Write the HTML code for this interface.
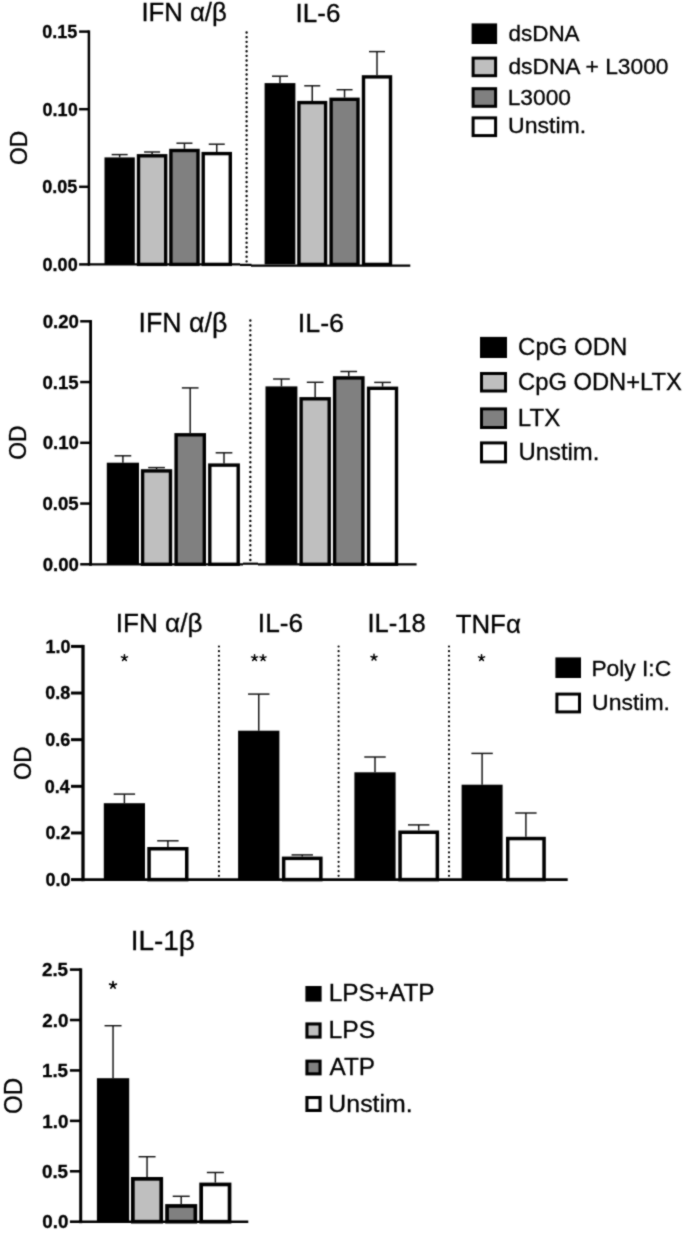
<!DOCTYPE html>
<html><head><meta charset="utf-8"><style>
html,body{margin:0;padding:0;background:#fff;}
svg{display:block;}
text{font-family:"Liberation Sans",sans-serif;fill:#000;stroke:#000;stroke-width:0.3px;}
</style></head><body>
<svg width="685" height="1234" viewBox="0 0 685 1234">
<defs><filter id="b" filterUnits="userSpaceOnUse" x="-10" y="-10" width="705" height="1254" color-interpolation-filters="sRGB"><feConvolveMatrix order="3" kernelMatrix="1 2 1 2 12 2 1 2 1" edgeMode="none" preserveAlpha="true"/></filter></defs>
<rect width="685" height="1234" fill="#fff"/>
<g filter="url(#b)">
<rect x="-10" y="-10" width="705" height="1254" fill="#fff"/>
<line x1="88.90" y1="30.35" x2="88.90" y2="265.65" stroke="#000" stroke-width="2.5" />
<line x1="79.10" y1="31.60" x2="88.90" y2="31.60" stroke="#000" stroke-width="2.5" />
<text transform="translate(42.34,37.99) scale(1.0000,1)" font-size="18" font-weight="bold">0.15</text>
<line x1="79.10" y1="109.20" x2="88.90" y2="109.20" stroke="#000" stroke-width="2.5" />
<text transform="translate(42.61,115.59) scale(1.0000,1)" font-size="18" font-weight="bold">0.10</text>
<line x1="79.10" y1="186.80" x2="88.90" y2="186.80" stroke="#000" stroke-width="2.5" />
<text transform="translate(42.34,193.19) scale(1.0000,1)" font-size="18" font-weight="bold">0.05</text>
<line x1="79.10" y1="264.40" x2="88.90" y2="264.40" stroke="#000" stroke-width="2.5" />
<text transform="translate(42.61,270.79) scale(1.0000,1)" font-size="18" font-weight="bold">0.00</text>
<line x1="88.00" y1="264.30" x2="240.00" y2="264.30" stroke="#000" stroke-width="2.3" />
<line x1="240.00" y1="264.90" x2="251.50" y2="264.90" stroke="#000" stroke-width="2.3" />
<line x1="251.00" y1="265.60" x2="410.30" y2="265.60" stroke="#000" stroke-width="2.3" />
<text transform="translate(27.16,164.93) rotate(-90) scale(0.9594,1)" font-size="23.80">OD</text>
<line x1="119.65" y1="157.40" x2="119.65" y2="154.60" stroke="#111" stroke-width="1.45" />
<line x1="111.65" y1="154.60" x2="127.65" y2="154.60" stroke="#111" stroke-width="1.45" />
<line x1="152.10" y1="154.10" x2="152.10" y2="152.00" stroke="#111" stroke-width="1.45" />
<line x1="144.10" y1="152.00" x2="160.10" y2="152.00" stroke="#111" stroke-width="1.45" />
<line x1="184.45" y1="148.80" x2="184.45" y2="143.20" stroke="#111" stroke-width="1.45" />
<line x1="176.45" y1="143.20" x2="192.45" y2="143.20" stroke="#111" stroke-width="1.45" />
<line x1="216.75" y1="151.90" x2="216.75" y2="144.20" stroke="#111" stroke-width="1.45" />
<line x1="208.75" y1="144.20" x2="224.75" y2="144.20" stroke="#111" stroke-width="1.45" />
<line x1="280.00" y1="83.10" x2="280.00" y2="76.20" stroke="#111" stroke-width="1.45" />
<line x1="272.00" y1="76.20" x2="288.00" y2="76.20" stroke="#111" stroke-width="1.45" />
<line x1="312.25" y1="100.90" x2="312.25" y2="85.80" stroke="#111" stroke-width="1.45" />
<line x1="304.25" y1="85.80" x2="320.25" y2="85.80" stroke="#111" stroke-width="1.45" />
<line x1="344.55" y1="97.60" x2="344.55" y2="89.70" stroke="#111" stroke-width="1.45" />
<line x1="336.55" y1="89.70" x2="352.55" y2="89.70" stroke="#111" stroke-width="1.45" />
<line x1="377.00" y1="75.20" x2="377.00" y2="51.60" stroke="#111" stroke-width="1.45" />
<line x1="369.00" y1="51.60" x2="385.00" y2="51.60" stroke="#111" stroke-width="1.45" />
<rect x="104.50" y="157.40" width="30.30" height="107.00" fill="#000"/>
<rect x="138.50" y="155.80" width="27.20" height="108.60" fill="#bfbfbf" stroke="#000" stroke-width="3.4"/>
<rect x="170.90" y="150.50" width="27.10" height="113.90" fill="#808080" stroke="#000" stroke-width="3.4"/>
<rect x="203.20" y="153.60" width="27.10" height="110.80" fill="#fff" stroke="#000" stroke-width="3.4"/>
<rect x="264.60" y="83.10" width="30.80" height="181.30" fill="#000"/>
<rect x="298.90" y="102.60" width="26.70" height="161.80" fill="#bfbfbf" stroke="#000" stroke-width="3.4"/>
<rect x="331.10" y="99.30" width="26.90" height="165.10" fill="#808080" stroke="#000" stroke-width="3.4"/>
<rect x="363.50" y="76.90" width="27.00" height="187.50" fill="#fff" stroke="#000" stroke-width="3.4"/>
<line x1="246.6" y1="32.50" x2="246.6" y2="261.34" stroke="#000" stroke-width="2.4" stroke-linecap="round" stroke-dasharray="0 4.67"/>
<text transform="translate(141.38,20.80) scale(1.0053,1)" font-size="25.6">IFN α/β</text>
<text transform="translate(295.56,21.80) scale(0.9998,1)" font-size="26">IL-6</text>
<rect x="471.60" y="23.40" width="25.50" height="20.60" fill="#000"/>
<text transform="translate(508.40,41.10) scale(0.9998,1)" font-size="22.5">dsDNA</text>
<rect x="473.10" y="58.10" width="22.50" height="17.60" fill="#bfbfbf" stroke="#000" stroke-width="3.0"/>
<text transform="translate(508.39,74.30) scale(1.0129,1)" font-size="22.5">dsDNA + L3000</text>
<rect x="473.10" y="88.70" width="22.50" height="17.60" fill="#808080" stroke="#000" stroke-width="3.0"/>
<text transform="translate(507.68,104.90) scale(1.0125,1)" font-size="22.5">L3000</text>
<rect x="473.10" y="117.90" width="22.50" height="17.70" fill="#fff" stroke="#000" stroke-width="3.0"/>
<text transform="translate(508.07,133.40) scale(1.0255,1)" font-size="22.5">Unstim.</text>
<line x1="90.60" y1="320.05" x2="90.60" y2="565.70" stroke="#000" stroke-width="2.8" />
<line x1="80.20" y1="321.30" x2="90.60" y2="321.30" stroke="#000" stroke-width="2.5" />
<text transform="translate(42.67,327.90) scale(1.0000,1)" font-size="18.6" font-weight="bold">0.20</text>
<line x1="80.20" y1="382.05" x2="90.60" y2="382.05" stroke="#000" stroke-width="2.5" />
<text transform="translate(42.39,388.65) scale(1.0000,1)" font-size="18.6" font-weight="bold">0.15</text>
<line x1="80.20" y1="442.80" x2="90.60" y2="442.80" stroke="#000" stroke-width="2.5" />
<text transform="translate(42.67,449.40) scale(1.0000,1)" font-size="18.6" font-weight="bold">0.10</text>
<line x1="80.20" y1="503.55" x2="90.60" y2="503.55" stroke="#000" stroke-width="2.5" />
<text transform="translate(42.39,510.15) scale(1.0000,1)" font-size="18.6" font-weight="bold">0.05</text>
<line x1="80.20" y1="564.30" x2="90.60" y2="564.30" stroke="#000" stroke-width="2.5" />
<text transform="translate(42.67,570.90) scale(1.0000,1)" font-size="18.6" font-weight="bold">0.00</text>
<line x1="89.50" y1="564.30" x2="243.00" y2="564.30" stroke="#000" stroke-width="2.2" />
<line x1="243.00" y1="563.70" x2="258.00" y2="563.70" stroke="#000" stroke-width="2.2" />
<line x1="258.00" y1="564.30" x2="416.60" y2="564.30" stroke="#000" stroke-width="2.2" />
<text transform="translate(25.86,459.83) rotate(-90) scale(0.9482,1)" font-size="24.08">OD</text>
<line x1="122.90" y1="462.70" x2="122.90" y2="455.80" stroke="#111" stroke-width="1.45" />
<line x1="114.55" y1="455.80" x2="131.25" y2="455.80" stroke="#111" stroke-width="1.45" />
<line x1="156.55" y1="469.20" x2="156.55" y2="467.60" stroke="#111" stroke-width="1.45" />
<line x1="148.20" y1="467.60" x2="164.90" y2="467.60" stroke="#111" stroke-width="1.45" />
<line x1="190.20" y1="433.10" x2="190.20" y2="387.90" stroke="#111" stroke-width="1.45" />
<line x1="181.85" y1="387.90" x2="198.55" y2="387.90" stroke="#111" stroke-width="1.45" />
<line x1="224.00" y1="463.40" x2="224.00" y2="452.80" stroke="#111" stroke-width="1.45" />
<line x1="215.65" y1="452.80" x2="232.35" y2="452.80" stroke="#111" stroke-width="1.45" />
<line x1="281.45" y1="386.40" x2="281.45" y2="379.00" stroke="#111" stroke-width="1.45" />
<line x1="273.10" y1="379.00" x2="289.80" y2="379.00" stroke="#111" stroke-width="1.45" />
<line x1="315.15" y1="397.10" x2="315.15" y2="382.30" stroke="#111" stroke-width="1.45" />
<line x1="306.80" y1="382.30" x2="323.50" y2="382.30" stroke="#111" stroke-width="1.45" />
<line x1="348.75" y1="376.20" x2="348.75" y2="371.50" stroke="#111" stroke-width="1.45" />
<line x1="340.40" y1="371.50" x2="357.10" y2="371.50" stroke="#111" stroke-width="1.45" />
<line x1="382.55" y1="386.60" x2="382.55" y2="382.40" stroke="#111" stroke-width="1.45" />
<line x1="374.20" y1="382.40" x2="390.90" y2="382.40" stroke="#111" stroke-width="1.45" />
<rect x="106.80" y="462.70" width="32.20" height="101.60" fill="#000"/>
<rect x="142.60" y="470.90" width="27.90" height="93.40" fill="#bfbfbf" stroke="#000" stroke-width="3.4"/>
<rect x="176.10" y="434.80" width="28.20" height="129.50" fill="#808080" stroke="#000" stroke-width="3.4"/>
<rect x="209.80" y="465.10" width="28.40" height="99.20" fill="#fff" stroke="#000" stroke-width="3.4"/>
<rect x="265.50" y="386.40" width="31.90" height="177.90" fill="#000"/>
<rect x="301.10" y="398.80" width="28.10" height="165.50" fill="#bfbfbf" stroke="#000" stroke-width="3.4"/>
<rect x="334.60" y="377.90" width="28.30" height="186.40" fill="#808080" stroke="#000" stroke-width="3.4"/>
<rect x="368.60" y="388.30" width="27.90" height="176.00" fill="#fff" stroke="#000" stroke-width="3.4"/>
<line x1="250.35" y1="320.56" x2="250.35" y2="559.98" stroke="#000" stroke-width="2.4" stroke-linecap="round" stroke-dasharray="0 4.886"/>
<text transform="translate(138.49,332.00) scale(0.9989,1)" font-size="26.8">IFN α/β</text>
<text transform="translate(297.78,332.00) scale(1.0104,1)" font-size="26.6">IL-6</text>
<rect x="480.00" y="336.90" width="27.00" height="21.10" fill="#000"/>
<text transform="translate(518.10,355.00) scale(1.0075,1)" font-size="23.8">CpG ODN</text>
<rect x="481.50" y="373.50" width="24.00" height="17.50" fill="#bfbfbf" stroke="#000" stroke-width="3.0"/>
<text transform="translate(518.11,389.60) scale(0.9972,1)" font-size="23.8">CpG ODN+LTX</text>
<rect x="481.50" y="408.90" width="24.00" height="18.60" fill="#808080" stroke="#000" stroke-width="3.0"/>
<text transform="translate(517.87,426.20) scale(1.0125,1)" font-size="23.8">LTX</text>
<rect x="481.50" y="442.90" width="24.00" height="19.00" fill="#fff" stroke="#000" stroke-width="3.0"/>
<text transform="translate(518.41,460.40) scale(1.0047,1)" font-size="23.8">Unstim.</text>
<line x1="83.00" y1="644.90" x2="83.00" y2="881.25" stroke="#000" stroke-width="3.3" />
<line x1="71.00" y1="646.40" x2="83.00" y2="646.40" stroke="#000" stroke-width="3.0" />
<text transform="translate(45.40,652.79) scale(1.0000,1)" font-size="18" font-weight="bold">1.0</text>
<line x1="71.00" y1="693.04" x2="83.00" y2="693.04" stroke="#000" stroke-width="3.0" />
<text transform="translate(45.22,699.43) scale(1.0000,1)" font-size="18" font-weight="bold">0.8</text>
<line x1="71.00" y1="739.68" x2="83.00" y2="739.68" stroke="#000" stroke-width="3.0" />
<text transform="translate(45.31,746.07) scale(1.0000,1)" font-size="18" font-weight="bold">0.6</text>
<line x1="71.00" y1="786.32" x2="83.00" y2="786.32" stroke="#000" stroke-width="3.0" />
<text transform="translate(44.77,792.71) scale(1.0000,1)" font-size="18" font-weight="bold">0.4</text>
<line x1="71.00" y1="832.96" x2="83.00" y2="832.96" stroke="#000" stroke-width="3.0" />
<text transform="translate(45.40,839.35) scale(1.0000,1)" font-size="18" font-weight="bold">0.2</text>
<line x1="71.00" y1="879.60" x2="83.00" y2="879.60" stroke="#000" stroke-width="3.0" />
<text transform="translate(45.40,885.99) scale(1.0000,1)" font-size="18" font-weight="bold">0.0</text>
<line x1="81.50" y1="879.60" x2="567.70" y2="879.60" stroke="#000" stroke-width="2.8" />
<text transform="translate(31.36,780.11) rotate(-90) scale(0.9501,1)" font-size="23.66">OD</text>
<line x1="124.40" y1="803.20" x2="124.40" y2="794.10" stroke="#111" stroke-width="1.45" />
<line x1="113.70" y1="794.10" x2="135.10" y2="794.10" stroke="#111" stroke-width="1.45" />
<line x1="167.90" y1="847.00" x2="167.90" y2="840.80" stroke="#111" stroke-width="1.45" />
<line x1="157.20" y1="840.80" x2="178.60" y2="840.80" stroke="#111" stroke-width="1.45" />
<line x1="258.75" y1="730.70" x2="258.75" y2="694.10" stroke="#111" stroke-width="1.45" />
<line x1="248.05" y1="694.10" x2="269.45" y2="694.10" stroke="#111" stroke-width="1.45" />
<line x1="302.25" y1="856.60" x2="302.25" y2="854.90" stroke="#111" stroke-width="1.45" />
<line x1="291.55" y1="854.90" x2="312.95" y2="854.90" stroke="#111" stroke-width="1.45" />
<line x1="375.00" y1="772.30" x2="375.00" y2="757.00" stroke="#111" stroke-width="1.45" />
<line x1="364.30" y1="757.00" x2="385.70" y2="757.00" stroke="#111" stroke-width="1.45" />
<line x1="418.70" y1="830.50" x2="418.70" y2="824.90" stroke="#111" stroke-width="1.45" />
<line x1="408.00" y1="824.90" x2="429.40" y2="824.90" stroke="#111" stroke-width="1.45" />
<line x1="482.10" y1="784.70" x2="482.10" y2="753.40" stroke="#111" stroke-width="1.45" />
<line x1="471.40" y1="753.40" x2="492.80" y2="753.40" stroke="#111" stroke-width="1.45" />
<line x1="525.90" y1="836.80" x2="525.90" y2="813.00" stroke="#111" stroke-width="1.45" />
<line x1="515.20" y1="813.00" x2="536.60" y2="813.00" stroke="#111" stroke-width="1.45" />
<rect x="103.80" y="803.20" width="41.20" height="76.40" fill="#000"/>
<rect x="149.05" y="848.75" width="37.70" height="30.85" fill="#fff" stroke="#000" stroke-width="3.5"/>
<rect x="238.10" y="730.70" width="41.30" height="148.90" fill="#000"/>
<rect x="283.65" y="858.35" width="37.20" height="21.25" fill="#fff" stroke="#000" stroke-width="3.5"/>
<rect x="354.40" y="772.30" width="41.20" height="107.30" fill="#000"/>
<rect x="400.05" y="832.25" width="37.30" height="47.35" fill="#fff" stroke="#000" stroke-width="3.5"/>
<rect x="461.60" y="784.70" width="41.00" height="94.90" fill="#000"/>
<rect x="507.75" y="838.55" width="36.30" height="41.05" fill="#fff" stroke="#000" stroke-width="3.5"/>
<line x1="218.95" y1="646.50" x2="218.95" y2="875.83" stroke="#000" stroke-width="2.2" stroke-linecap="round" stroke-dasharray="0 4.68"/>
<line x1="338.6" y1="646.50" x2="338.6" y2="875.83" stroke="#000" stroke-width="2.2" stroke-linecap="round" stroke-dasharray="0 4.68"/>
<line x1="449.0" y1="646.50" x2="449.0" y2="875.83" stroke="#000" stroke-width="2.2" stroke-linecap="round" stroke-dasharray="0 4.68"/>
<text transform="translate(115.85,632.00) scale(1.0031,1)" font-size="26">IFN α/β</text>
<text transform="translate(257.84,632.00) scale(1.0095,1)" font-size="26">IL-6</text>
<text transform="translate(367.50,632.00) scale(0.9839,1)" font-size="26">IL-18</text>
<text transform="translate(455.68,633.40) scale(0.9946,1)" font-size="26">TNFα</text>
<path d="M124.44 657.88L124.44 654.68M124.44 657.88L127.48 656.89M124.44 657.88L126.32 660.47M124.44 657.88L122.56 660.47M124.44 657.88L121.40 656.89" stroke="#000" stroke-width="1.5" stroke-linecap="round" fill="none"/>
<path d="M254.56 657.89L254.56 654.69M254.56 657.89L257.60 656.90M254.56 657.89L256.44 660.48M254.56 657.89L252.68 660.48M254.56 657.89L251.52 656.90" stroke="#000" stroke-width="1.5" stroke-linecap="round" fill="none"/>
<path d="M263.05 657.89L263.05 654.69M263.05 657.89L266.09 656.90M263.05 657.89L264.93 660.48M263.05 657.89L261.17 660.48M263.05 657.89L260.01 656.90" stroke="#000" stroke-width="1.5" stroke-linecap="round" fill="none"/>
<path d="M374.00 657.44L374.00 654.24M374.00 657.44L377.04 656.45M374.00 657.44L375.88 660.03M374.00 657.44L372.12 660.03M374.00 657.44L370.96 656.45" stroke="#000" stroke-width="1.5" stroke-linecap="round" fill="none"/>
<path d="M481.55 657.88L481.55 654.68M481.55 657.88L484.59 656.89M481.55 657.88L483.43 660.47M481.55 657.88L479.67 660.47M481.55 657.88L478.51 656.89" stroke="#000" stroke-width="1.5" stroke-linecap="round" fill="none"/>
<rect x="555.40" y="657.40" width="25.60" height="20.60" fill="#000"/>
<text transform="translate(591.38,675.90) scale(1.0036,1)" font-size="22.7">Poly I:C</text>
<rect x="556.90" y="694.10" width="22.60" height="17.80" fill="#fff" stroke="#000" stroke-width="3.0"/>
<text transform="translate(592.08,710.40) scale(1.0124,1)" font-size="22.7">Unstim.</text>
<line x1="80.70" y1="968.30" x2="80.70" y2="1223.20" stroke="#000" stroke-width="3.0" />
<line x1="69.90" y1="969.60" x2="80.70" y2="969.60" stroke="#000" stroke-width="2.6" />
<text transform="translate(41.94,976.27) scale(1.0000,1)" font-size="18.8" font-weight="bold">2.5</text>
<line x1="69.90" y1="1020.02" x2="80.70" y2="1020.02" stroke="#000" stroke-width="2.6" />
<text transform="translate(42.22,1026.69) scale(1.0000,1)" font-size="18.8" font-weight="bold">2.0</text>
<line x1="69.90" y1="1070.44" x2="80.70" y2="1070.44" stroke="#000" stroke-width="2.6" />
<text transform="translate(41.94,1077.11) scale(1.0000,1)" font-size="18.8" font-weight="bold">1.5</text>
<line x1="69.90" y1="1120.86" x2="80.70" y2="1120.86" stroke="#000" stroke-width="2.6" />
<text transform="translate(42.22,1127.53) scale(1.0000,1)" font-size="18.8" font-weight="bold">1.0</text>
<line x1="69.90" y1="1171.28" x2="80.70" y2="1171.28" stroke="#000" stroke-width="2.6" />
<text transform="translate(41.94,1177.95) scale(1.0000,1)" font-size="18.8" font-weight="bold">0.5</text>
<line x1="69.90" y1="1221.70" x2="80.70" y2="1221.70" stroke="#000" stroke-width="2.6" />
<text transform="translate(42.22,1228.37) scale(1.0000,1)" font-size="18.8" font-weight="bold">0.0</text>
<line x1="79.30" y1="1221.70" x2="248.30" y2="1221.70" stroke="#000" stroke-width="2.5" />
<text transform="translate(21.73,1113.99) rotate(-90) scale(0.9059,1)" font-size="26.62">OD</text>
<line x1="113.05" y1="1078.20" x2="113.05" y2="1025.70" stroke="#111" stroke-width="1.45" />
<line x1="104.55" y1="1025.70" x2="121.55" y2="1025.70" stroke="#111" stroke-width="1.45" />
<line x1="147.05" y1="1177.00" x2="147.05" y2="1156.70" stroke="#111" stroke-width="1.45" />
<line x1="138.55" y1="1156.70" x2="155.55" y2="1156.70" stroke="#111" stroke-width="1.45" />
<line x1="181.20" y1="1204.10" x2="181.20" y2="1196.30" stroke="#111" stroke-width="1.45" />
<line x1="172.70" y1="1196.30" x2="189.70" y2="1196.30" stroke="#111" stroke-width="1.45" />
<line x1="215.35" y1="1182.60" x2="215.35" y2="1172.50" stroke="#111" stroke-width="1.45" />
<line x1="206.85" y1="1172.50" x2="223.85" y2="1172.50" stroke="#111" stroke-width="1.45" />
<rect x="96.90" y="1078.20" width="32.30" height="143.50" fill="#000"/>
<rect x="132.85" y="1178.85" width="28.40" height="42.85" fill="#bfbfbf" stroke="#000" stroke-width="3.7"/>
<rect x="167.05" y="1205.95" width="28.30" height="15.75" fill="#808080" stroke="#000" stroke-width="3.7"/>
<rect x="201.15" y="1184.45" width="28.40" height="37.25" fill="#fff" stroke="#000" stroke-width="3.7"/>
<text transform="translate(130.69,950.00) scale(1.0045,1)" font-size="27.8">IL-1β</text>
<path d="M113.00 985.23L113.00 981.68M113.00 985.23L116.38 984.13M113.00 985.23L115.09 988.10M113.00 985.23L110.91 988.10M113.00 985.23L109.62 984.13" stroke="#000" stroke-width="1.7" stroke-linecap="round" fill="none"/>
<rect x="305.40" y="986.00" width="16.20" height="15.60" fill="#000"/>
<text transform="translate(328.65,1001.40) scale(0.9996,1)" font-size="24.4">LPS+ATP</text>
<rect x="306.95" y="1023.95" width="13.10" height="13.10" fill="#bfbfbf" stroke="#000" stroke-width="3.1"/>
<text transform="translate(328.62,1038.00) scale(1.0124,1)" font-size="24.4">LPS</text>
<rect x="306.95" y="1061.15" width="13.10" height="12.70" fill="#808080" stroke="#000" stroke-width="3.1"/>
<text transform="translate(329.48,1075.40) scale(0.9981,1)" font-size="24.4">ATP</text>
<rect x="306.95" y="1097.55" width="13.10" height="12.90" fill="#fff" stroke="#000" stroke-width="3.1"/>
<text transform="translate(328.33,1112.20) scale(1.0208,1)" font-size="24.4">Unstim.</text>
</g>
</svg>
</body></html>
